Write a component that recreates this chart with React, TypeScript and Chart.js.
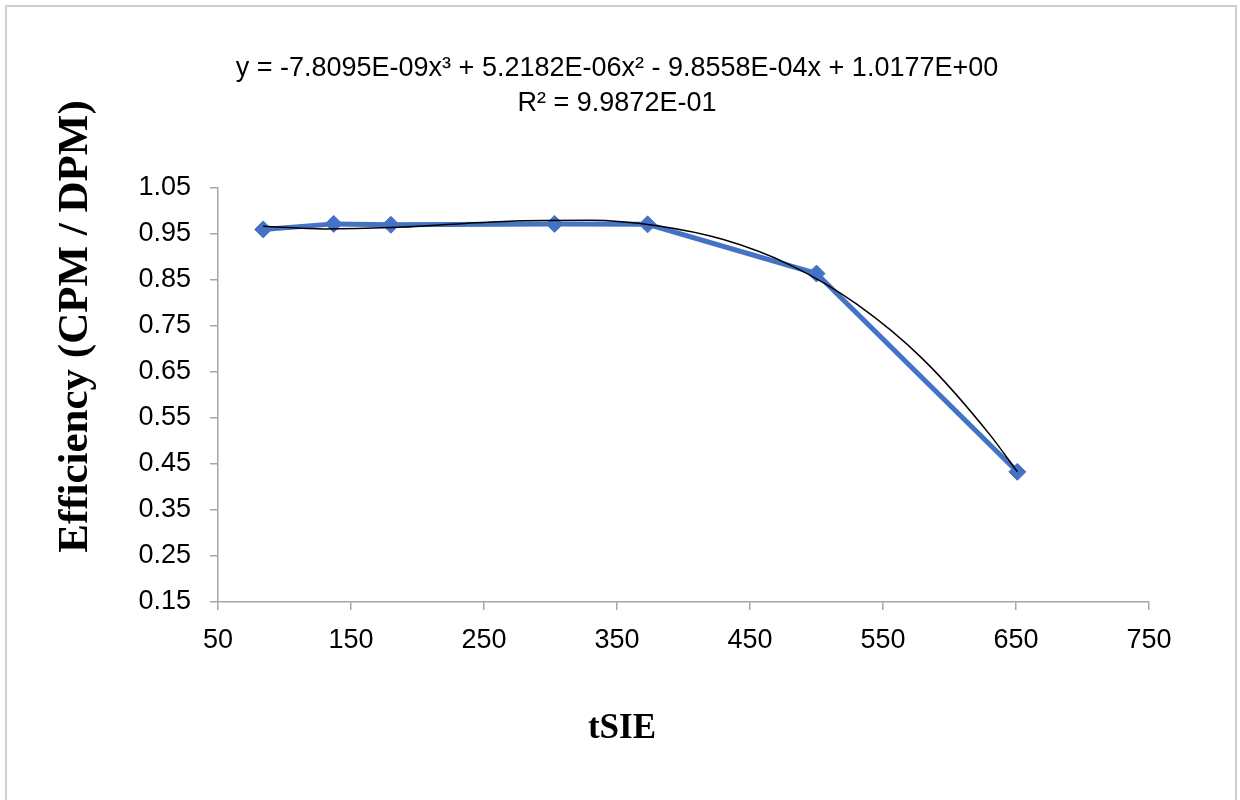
import React, { useEffect, useRef } from "react";
import { Chart, registerables } from "chart.js";

Chart.register(...registerables);

// Measured data (tSIE vs counting efficiency)
const DATA_X = [84, 137, 180, 303, 373, 500, 651];
const DATA_Y = [0.96, 0.972, 0.97, 0.972, 0.971, 0.864, 0.433];

// Polynomial trendline
const TREND_X = [84, 130, 180, 230, 280, 330, 380, 430, 480, 530, 580, 630, 651];
const TREND_Y = [0.967, 0.961, 0.964, 0.972, 0.979, 0.98, 0.968, 0.938, 0.883, 0.798, 0.678, 0.515, 0.433];

const EQUATION_LINES = [
  "y = -7.8095E-09x\u00B3 + 5.2182E-06x\u00B2 - 9.8558E-04x + 1.0177E+00",
  "R\u00B2 = 9.9872E-01",
];
const X_TITLE = "tSIE";
const Y_TITLE = "Efficiency (CPM / DPM)";

const X_MIN = 50;
const X_MAX = 750;
const X_STEP = 100;
const Y_MIN = 0.15;
const Y_MAX = 1.05;
const Y_STEP = 0.1;

const AXIS_COLOR = "#a6a6a6";
const BLUE = "#4472C4";
const TICK_FONT = { family: "'Liberation Sans', Arial, sans-serif", size: 27 };

const textPlugin = {
  id: "chartTexts",
  afterDraw(chart: any) {
    const ctx = chart.ctx as CanvasRenderingContext2D;
    ctx.save();
    ctx.fillStyle = "#000";
    ctx.textAlign = "center";
    ctx.textBaseline = "alphabetic";
    ctx.font = "27px 'Liberation Sans', Arial, sans-serif";
    ctx.fillText(EQUATION_LINES[0], 617, 76);
    ctx.fillText(EQUATION_LINES[1], 617, 111);
    ctx.font = "bold 35px 'Liberation Serif', 'Times New Roman', serif";
    ctx.fillText(X_TITLE, 622, 738);
    ctx.translate(87, 326.5);
    ctx.rotate(-Math.PI / 2);
    ctx.font = "bold 43px 'Liberation Serif', 'Times New Roman', serif";
    ctx.fillText(Y_TITLE, 0, 0);
    ctx.restore();
  },
};

export default function App() {
  const canvasRef = useRef<HTMLCanvasElement | null>(null);

  useEffect(() => {
    if (!canvasRef.current) return;
    const chart = new Chart(canvasRef.current, {
      type: "scatter",
      data: {
        datasets: [
          {
            label: "Poly. trendline",
            data: TREND_X.map((x, i) => ({ x, y: TREND_Y[i] })),
            showLine: true,
            borderColor: "#000000",
            borderWidth: 1.5,
            pointRadius: 0,
            pointHoverRadius: 0,
            cubicInterpolationMode: "monotone",
            fill: false,
          },
          {
            label: "Efficiency",
            data: DATA_X.map((x, i) => ({ x, y: DATA_Y[i] })),
            showLine: true,
            borderColor: BLUE,
            backgroundColor: BLUE,
            borderWidth: 5,
            pointStyle: "rectRot",
            pointRadius: 8.5,
            pointHoverRadius: 8.5,
            pointBackgroundColor: BLUE,
            pointBorderColor: BLUE,
            pointBorderWidth: 1,
            tension: 0,
            fill: false,
          },
        ],
      },
      options: {
        responsive: false,
        animation: false,
        layout: { padding: { left: 0, top: 188, right: 91, bottom: 0 } },
        plugins: {
          legend: { display: false },
          tooltip: { enabled: false },
          title: { display: false },
        },
        scales: {
          x: {
            type: "linear",
            min: X_MIN,
            max: X_MAX,
            afterFit(scale: any) {
              scale.height = 198;
            },
            ticks: {
              stepSize: X_STEP,
              color: "#000",
              font: TICK_FONT,
              padding: 14,
              maxRotation: 0,
            },
            grid: {
              drawOnChartArea: false,
              drawTicks: true,
              tickLength: 8,
              color: AXIS_COLOR,
              lineWidth: 1.5,
            },
            border: { display: true, color: AXIS_COLOR, width: 1.5 },
          },
          y: {
            type: "linear",
            min: Y_MIN,
            max: Y_MAX,
            afterFit(scale: any) {
              scale.width = 218;
            },
            ticks: {
              stepSize: Y_STEP,
              color: "#000",
              font: TICK_FONT,
              padding: 19,
              callback: (v: any) => Number(v).toFixed(2),
            },
            grid: {
              drawOnChartArea: false,
              drawTicks: true,
              tickLength: 8,
              color: AXIS_COLOR,
              lineWidth: 1.5,
            },
            border: { display: true, color: AXIS_COLOR, width: 1.5 },
          },
        },
      },
      plugins: [textPlugin],
    });
    return () => chart.destroy();
  }, []);

  return (
    <div
      style={{
        position: "absolute",
        left: 0,
        top: 0,
        width: 1240,
        height: 800,
        overflow: "hidden",
        background: "#fff",
      }}
    >
      <div
        style={{
          position: "absolute",
          left: 5,
          top: 5,
          width: 1228,
          height: 900,
          border: "2px solid #cfcfcf",
        }}
      />
      <canvas
        ref={canvasRef}
        width={1240}
        height={800}
        style={{ position: "absolute", left: 0, top: 0, width: 1240, height: 800 }}
      />
    </div>
  );
}
